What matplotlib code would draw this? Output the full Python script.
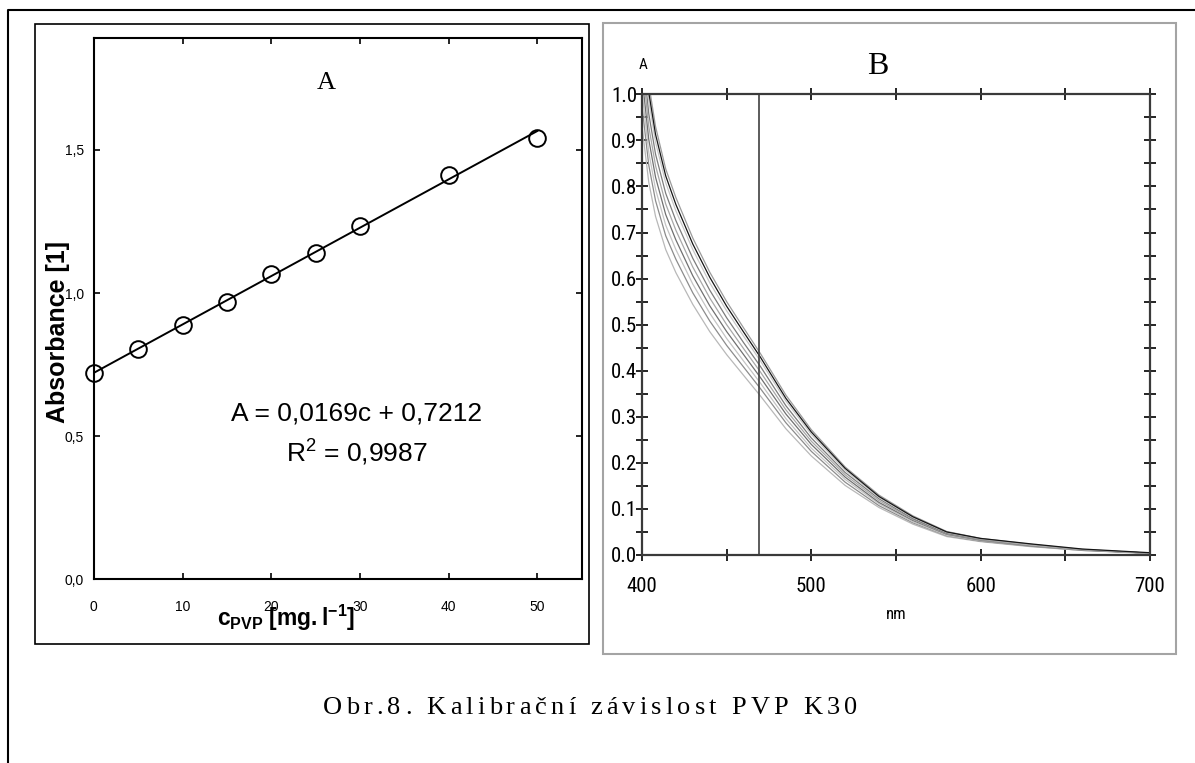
import matplotlib
matplotlib.use('Agg')
import matplotlib.pyplot as plt
from matplotlib import font_manager
from matplotlib.font_manager import FontProperties
from matplotlib.ft2font import FT2Font
from matplotlib.lines import Line2D
from matplotlib.patches import Rectangle
from matplotlib.ticker import MultipleLocator, FormatStrFormatter, FuncFormatter

# panel A - calibration points and the fit printed on the chart
conc = [0, 5, 10, 15, 20, 25, 30, 40, 50]
absorb = [0.720, 0.804, 0.888, 0.970, 1.066, 1.140, 1.234, 1.413, 1.543]
slope = 0.0169
intercept = 0.7212
eq_text = 'A = 0,0169c + 0,7212'
r2_text = 'R$^2$ = 0,9987'

# panel B - absorption spectra
wl = [400, 404, 408, 414, 420, 430, 440, 450, 460, 470, 485, 500, 520, 540, 560, 580, 600, 630, 660, 700]
spectra = [
    [0.931, 0.809, 0.735, 0.663, 0.613, 0.544, 0.485, 0.435, 0.390, 0.345, 0.274, 0.215, 0.151, 0.103, 0.067, 0.040, 0.029, 0.018, 0.010, 0.003],
    [0.974, 0.846, 0.769, 0.693, 0.642, 0.569, 0.508, 0.455, 0.408, 0.361, 0.287, 0.225, 0.158, 0.107, 0.070, 0.042, 0.030, 0.019, 0.010, 0.004],
    [1.006, 0.874, 0.794, 0.716, 0.663, 0.588, 0.525, 0.470, 0.421, 0.373, 0.296, 0.232, 0.164, 0.111, 0.072, 0.043, 0.031, 0.020, 0.010, 0.004],
    [1.038, 0.902, 0.820, 0.739, 0.684, 0.606, 0.541, 0.485, 0.435, 0.385, 0.306, 0.240, 0.169, 0.114, 0.075, 0.045, 0.032, 0.020, 0.011, 0.004],
    [1.070, 0.930, 0.845, 0.762, 0.705, 0.625, 0.558, 0.500, 0.448, 0.397, 0.315, 0.247, 0.174, 0.118, 0.077, 0.046, 0.033, 0.021, 0.011, 0.004],
    [1.102, 0.958, 0.870, 0.785, 0.726, 0.644, 0.575, 0.515, 0.461, 0.409, 0.324, 0.254, 0.179, 0.122, 0.079, 0.047, 0.034, 0.022, 0.011, 0.004],
    [1.134, 0.986, 0.896, 0.808, 0.747, 0.663, 0.591, 0.530, 0.475, 0.421, 0.334, 0.262, 0.184, 0.125, 0.082, 0.049, 0.035, 0.022, 0.012, 0.004],
    [1.177, 1.023, 0.930, 0.838, 0.776, 0.688, 0.614, 0.550, 0.493, 0.437, 0.347, 0.272, 0.191, 0.130, 0.085, 0.051, 0.036, 0.023, 0.012, 0.004],
]
dark_spectrum = [1.156, 1.004, 0.913, 0.823, 0.761, 0.675, 0.603, 0.540, 0.484, 0.429, 0.340, 0.267, 0.188, 0.127, 0.083, 0.050, 0.036, 0.024, 0.013, 0.005]
spec_colors = ['#b8b8b8', '#8c8c8c', '#c4c4c4', '#707070', '#a8a8a8', '#7c7c7c', '#c8c8c8', '#9c9c9c']
line_nm = 469

caption = 'Obr.8. Kalibrační závislost PVP K30'

W, H = 1195, 763

plt.rcParams['font.family'] = 'Liberation Sans'
plt.rcParams['mathtext.fontset'] = 'custom'
plt.rcParams['mathtext.rm'] = 'Liberation Sans'
plt.rcParams['mathtext.bf'] = 'Liberation Sans:bold'
plt.rcParams['mathtext.it'] = 'Liberation Sans:italic'

# the spectrometer labels use a narrow sans; take one if the system has it
narrow_fp = None
wanted = ['Liberation Sans Narrow', 'Roboto Condensed', 'DejaVu Sans', 'Noto Sans', 'Open Sans']
cands = [f for f in font_manager.fontManager.ttflist
         if f.style == 'normal' and f.weight in (400, 'normal', 'regular')
         and ('Narrow' in f.name or 'Condensed' in f.name or f.stretch in ('condensed', 'semi-condensed'))]
cands.sort(key=lambda f: wanted.index(f.name) if f.name in wanted else 99)
if cands:
    narrow_fp = cands[0].fname


def narrow_props(size):
    if narrow_fp:
        return FontProperties(fname=narrow_fp, size=size)
    return FontProperties(family='Liberation Sans', size=size * 0.85)


def fig_box(x0, y0, x1, y1):
    # pixel box (top-left origin) -> figure fraction rect
    return [x0 / W, 1 - y1 / H, (x1 - x0) / W, (y1 - y0) / H]


fig = plt.figure(figsize=(W / 100, H / 100), dpi=100)
fig.patch.set_facecolor('white')

# outer frame and panel boxes
fig.add_artist(Line2D([7.7 / W, 7.7 / W, 1.0], [0.0, 1 - 10 / H, 1 - 10 / H],
                      transform=fig.transFigure, color='black', lw=1.5))
r = fig_box(35.2, 24, 589.4, 644.3)
fig.add_artist(Rectangle((r[0], r[1]), r[2], r[3], transform=fig.transFigure,
                         fill=False, ec='black', lw=1.2))
r = fig_box(603.4, 22.7, 1175.6, 654)
fig.add_artist(Rectangle((r[0], r[1]), r[2], r[3], transform=fig.transFigure,
                         fill=False, ec='#a4a4a4', lw=1.5))

# ---- panel A
ax = fig.add_axes(fig_box(93.8, 38.3, 581.7, 579.3))
x_fit = [conc[0], conc[-1]]
y_fit = [intercept + slope * c for c in x_fit]
ax.plot(x_fit, y_fit, color='black', lw=1.4)
ax.plot(conc, absorb, 'o', ms=12, mfc='none', mec='black', mew=1.4, clip_on=False, zorder=3)
ax.set_xlim(0, 55)
ax.set_ylim(0, 1.89)
ax.set_xticks(range(0, 51, 10))
ax.set_yticks([0, 0.5, 1.0, 1.5])
ax.yaxis.set_major_formatter(FuncFormatter(lambda v, p: f'{v:.1f}'.replace('.', ',')))
ax.tick_params(direction='in', length=4, width=1.2, top=True, right=True, labelsize=10)
ax.tick_params(axis='x', pad=15)
ax.tick_params(axis='y', pad=7)
for s in ax.spines.values():
    s.set_linewidth(1.5)
ax.set_ylabel('Absorbance [1]', fontsize=18, fontweight='bold')
ax.yaxis.set_label_coords(-0.0734, 0.457)
ax.yaxis.label.set_va('center')
ax.set_xlabel(r'$\mathbf{c_{PVP}\ [mg.l^{-1}]}$', fontsize=16.5)
ax.xaxis.set_label_coords(0.394, -0.0863)
ax.xaxis.label.set_va('baseline')
ax.text(0.476, 0.9176, 'A', transform=ax.transAxes, ha='center', va='center',
        family='Liberation Serif', fontsize=19)
ax.text(0.539, 0.307, eq_text, transform=ax.transAxes, ha='center', va='center', fontsize=19)
ax.text(0.539, 0.2335, r2_text, transform=ax.transAxes, ha='center', va='center', fontsize=19)

# ---- panel B
bx = fig.add_axes(fig_box(642, 94.3, 1149.9, 555))
for s, c in zip(spectra, spec_colors):
    bx.plot(wl, s, color=c, lw=0.9)
bx.plot(wl, dark_spectrum, color='#151515', lw=0.9)
bx.axvline(line_nm, color='#404040', lw=1.2)
bx.set_xlim(400, 700)
bx.set_ylim(0, 1.0)
bx.xaxis.set_major_locator(MultipleLocator(100))
bx.xaxis.set_minor_locator(MultipleLocator(50))
bx.yaxis.set_major_locator(MultipleLocator(0.1))
bx.yaxis.set_minor_locator(MultipleLocator(0.05))
bx.yaxis.set_major_formatter(FormatStrFormatter('%.1f'))
bx.tick_params(which='both', direction='inout', length=9, width=1.2, top=True, right=True)
bx.tick_params(axis='x', pad=11)
bx.tick_params(axis='y', pad=-1)
tick_fp = narrow_props(15)
for lab in bx.get_xticklabels() + bx.get_yticklabels():
    lab.set_fontproperties(tick_fp)
for s in bx.spines.values():
    s.set_linewidth(1.6)
    s.set_color('#3a3a3a')
bx.text(0.002, 1.0636, 'A', transform=bx.transAxes, ha='center', va='center',
        fontproperties=narrow_props(11))
bx.text(0.4647, 1.06, 'B', transform=bx.transAxes, ha='center', va='center',
        family='Liberation Serif', fontsize=23)
bx.text(0.5, -0.130, 'nm', transform=bx.transAxes, ha='center', va='center',
        fontproperties=narrow_props(12))

# ---- caption, letter spaced
cap_size = 19
cap_prop = FontProperties(family='Liberation Serif', size=cap_size)
ft = FT2Font(font_manager.findfont(cap_prop))
ft.set_size(cap_size, 100)
adv = []
for ch in caption:
    g = ft.load_char(ord(ch))
    adv.append(g.linearHoriAdvance / 65536)
track = 4.2
total = sum(adv) + track * (len(caption) - 1)
x = 590 - total / 2
for ch, a in zip(caption, adv):
    fig.text(x / W, 1 - 714 / H, ch, fontproperties=cap_prop, ha='left', va='baseline')
    x += a + track

fig.savefig('out.png', dpi=100)
